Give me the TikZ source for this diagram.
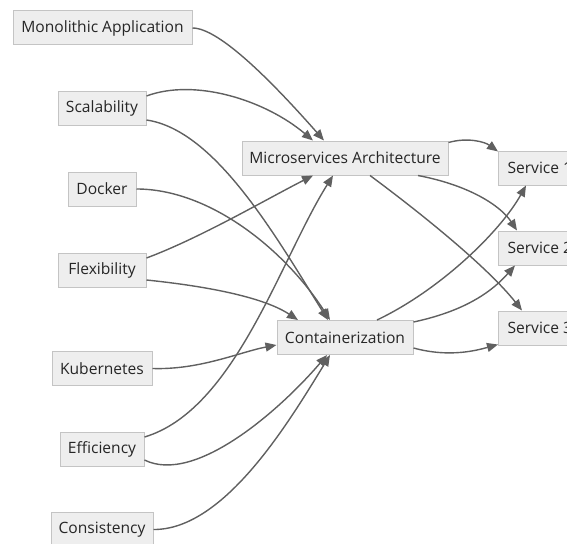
\documentclass[tikz,border=0pt]{standalone}
\usepackage{fontspec}
\setmainfont{Open Sans}
\usetikzlibrary{arrows.meta}
\definecolor{boxfill}{HTML}{EEEEEE}
\definecolor{boxline}{HTML}{C4C4C4}
\definecolor{edgecol}{HTML}{606060}
\definecolor{txt}{HTML}{262626}
\tikzset{
  box/.style={draw=boxline, line width=1pt, fill=boxfill, text=txt, font=\fontsize{15.6}{18}\selectfont,
    minimum height=34pt, inner xsep=6pt, inner ysep=0pt, anchor=center},
  edge/.style={draw=edgecol, line width=1.4pt, -{Triangle[length=11pt,width=9pt]}}
}
\begin{document}
\begin{tikzpicture}[x=1pt,y=-1pt]
\useasboundingbox (0,0) rectangle (567,543);
\node[box, minimum width=179pt] (mono) at (102.5,28) {Monolithic Application};
\node[box, minimum width=88pt] (scal) at (102,108.5) {Scalability};
\node[box, minimum width=68pt] (dock) at (102,189) {Docker};
\node[box, minimum width=88pt] (flex) at (102,270) {Flexibility};
\node[box, minimum width=100pt] (kub) at (102,368.5) {Kubernetes};
\node[box, minimum width=84pt] (eff) at (102,449.5) {Efficiency};
\node[box, minimum width=102pt] (cons) at (102,529.5) {Consistency};
\node[box, minimum width=206pt] (ma) at (345,158) {Microservices Architecture};
\node[box, minimum width=136pt] (cont) at (345,337.5) {Containerization};
\node[box, anchor=west, inner xsep=9pt] (s1) at (498,168) {Service 1};
\node[box, anchor=west, inner xsep=9pt] (s2) at (498,248) {Service 2};
\node[box, anchor=west, inner xsep=9pt] (s3) at (498,328) {Service 3};

% into Microservices Architecture
\draw[edge] (mono.east) .. controls (220,28) and (275,85) .. ([xshift=-21pt]ma.north);
\draw[edge] ([yshift=12.5pt]scal.east) .. controls (195,78) and (265,100) .. ([xshift=-32pt]ma.north);
\draw[edge] ([yshift=12pt]flex.east) .. controls (200,238) and (265,200) .. ([xshift=-32pt]ma.south);
\draw[edge] ([yshift=12.5pt]eff.east) .. controls (235,410) and (280,260) .. ([xshift=-12pt]ma.south);
% into Containerization
\draw[edge] ([yshift=-11.5pt]scal.east) .. controls (215,130) and (275,235) .. ([xshift=-17pt]cont.north);
\draw[edge] (dock.east) .. controls (210,189) and (285,250) .. ([xshift=-15pt]cont.north);
\draw[edge] ([yshift=-10pt]flex.east) .. controls (195,285) and (260,295) .. ([xshift=-47pt]cont.north);
\draw[edge] (kub.east) .. controls (200,370) and (240,352) .. ([yshift=-7.5pt]cont.west);
\draw[edge] ([yshift=-10.5pt]eff.east) .. controls (195,485) and (280,410) .. ([xshift=-18pt]cont.south);
\draw[edge] (cons.east) .. controls (225,530) and (290,420) .. ([xshift=-15pt]cont.south);
% into services
\draw[edge] ([yshift=-2pt]ma.north east) .. controls (468,137) and (485,142) .. ([yshift=-1pt]s1.north west);
\draw[edge] ([xshift=73pt]ma.south) .. controls (468,185) and (500,205) .. ([xshift=19pt]s2.north west);
\draw[edge] ([xshift=25pt]ma.south) .. controls (430,220) and (490,270) .. ([xshift=24pt]s3.north west);
\draw[edge] ([xshift=32pt]cont.north) .. controls (440,290) and (500,232) .. ([xshift=28pt]s1.south west);
\draw[edge] ([yshift=-2pt]cont.north east) .. controls (470,310) and (495,288) .. ([xshift=17pt]s2.south west);
\draw[edge] ([yshift=-10.5pt]cont.east) .. controls (450,358) and (478,350) .. ([yshift=1pt]s3.south west);
\end{tikzpicture}
\end{document}
